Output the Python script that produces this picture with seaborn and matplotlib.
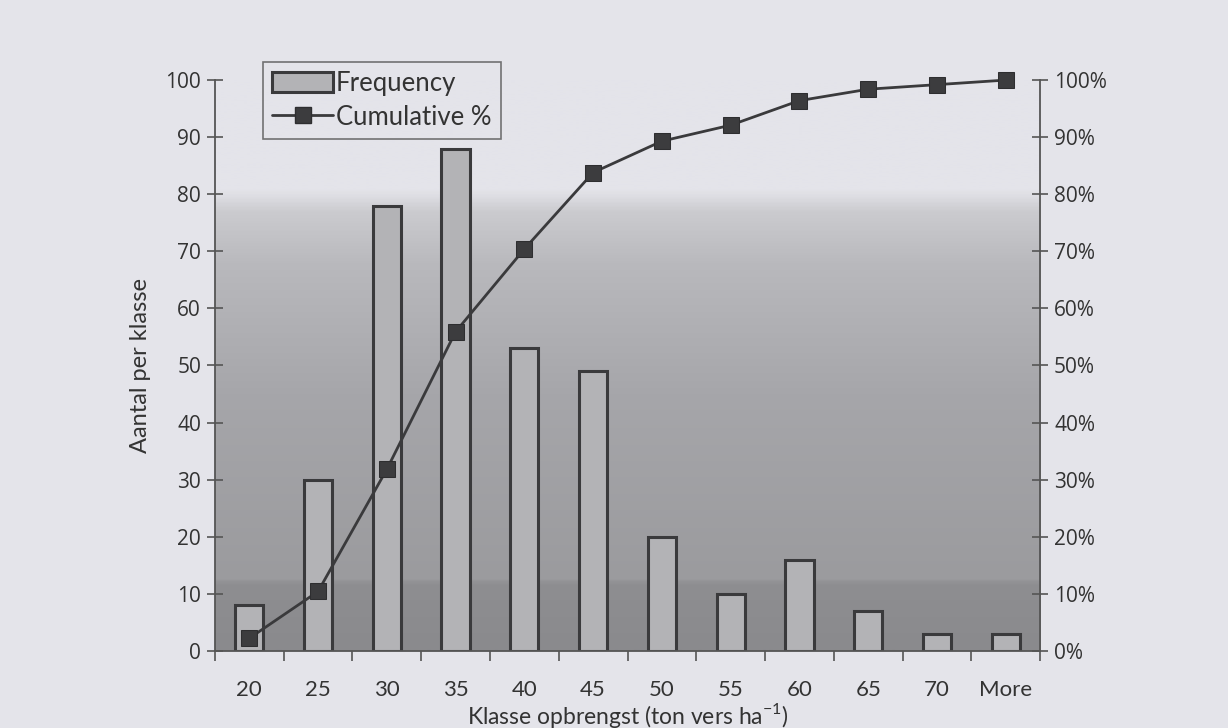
import numpy as np
import matplotlib
matplotlib.use("Agg")
import matplotlib.pyplot as plt
from matplotlib.colors import LinearSegmentedColormap
from matplotlib.lines import Line2D
from matplotlib.patches import Patch
import seaborn as sns

# Yield classes (upper bound, ton fresh per ha) and counts per class
klassen = ["20", "25", "30", "35", "40", "45", "50", "55", "60", "65", "70", "More"]
frequentie = [8, 30, 78, 88, 53, 49, 20, 10, 16, 7, 3, 3]
cumulatief = [2.2, 10.4, 31.8, 55.9, 70.4, 83.8, 89.3, 92.1, 96.4, 98.4, 99.2, 100.0]
y_ticks = [0, 10, 20, 30, 40, 50, 60, 70, 80, 90, 100]
pct_ticks = ["0%", "10%", "20%", "30%", "40%", "50%", "60%", "70%", "80%", "90%", "100%"]

page = "#e4e4ea"
ink = "#3a3a3c"

sns.set_theme(style="white")
plt.rcParams["font.family"] = ["Lato", "DejaVu Sans"]

fig = plt.figure(figsize=(12.28, 7.28), dpi=100, facecolor=page)
ax = fig.add_axes([0.175, 0.106, 0.672, 0.784])
ax.set_facecolor(page)

# shaded plot backdrop: dark band at the bottom, fading to light near 80
grad_stops = [(0.0, "#8a8a8d"), (0.115, "#8e8e91"), (0.125, "#9b9b9e"),
              (0.45, "#a6a6aa"), (0.68, "#b9b9bd"), (0.77, "#cbcbcf"),
              (0.81, page), (1.0, page)]
cmap = LinearSegmentedColormap.from_list("backdrop", grad_stops)
grad = np.linspace(0, 1, 400).reshape(-1, 1)
ax.imshow(grad, cmap=cmap, aspect="auto", origin="lower",
          extent=[0, 1, 0, 1], transform=ax.transAxes, zorder=0,
          interpolation="bilinear")

sns.barplot(x=klassen, y=frequentie, ax=ax, color="#b3b3b6", edgecolor=ink,
            linewidth=2.2, width=0.41, saturation=1, zorder=2)

ax.set_xlim(-0.5, len(klassen) - 0.5)
ax.set_ylim(0, 100)
ax.set_yticks(y_ticks)
ax.set_yticklabels([str(t) for t in y_ticks], fontfamily="Open Sans",
                   fontsize=15, color="#333333")
ax.tick_params(axis="y", direction="inout", length=12, width=1.2,
               color="#555555", left=True, pad=4)
ax.set_xticks(range(len(klassen)))
ax.set_xticklabels(klassen, fontsize=16, color="#333333")
ax.tick_params(axis="x", length=0, pad=21)
ax.set_xticks(np.arange(-0.5, len(klassen)), minor=True)
ax.tick_params(axis="x", which="minor", direction="out", length=7, width=1.2,
               color="#555555", bottom=True)

for side in ["top", "right"]:
    ax.spines[side].set_visible(False)
for side in ["left", "bottom"]:
    ax.spines[side].set_color("#555555")
    ax.spines[side].set_linewidth(1.3)

ax.set_ylabel("Aantal per klasse", fontsize=17, color="#333333", labelpad=10)
ax.set_xlabel("Klasse opbrengst (ton vers ha$^{\\mathregular{-1}}$)",
              fontsize=16.5, color="#333333", labelpad=1)

ax2 = ax.twinx()
sns.lineplot(x=np.arange(len(klassen)), y=cumulatief, ax=ax2, color=ink,
             linewidth=2.0, marker="s", markersize=12, markerfacecolor="#3c3c3e",
             markeredgecolor="#2e2e30", zorder=3)
for ln in ax2.get_lines():
    ln.set_clip_on(False)
ax2.set_ylim(0, 100)
ax2.set_yticks(y_ticks)
ax2.set_yticklabels(pct_ticks, fontfamily="Open Sans", fontsize=15,
                    color="#333333")
ax2.tick_params(axis="y", direction="inout", length=12, width=1.2,
                color="#555555", right=True, pad=4)
ax2.grid(False)
for side in ["top", "left", "bottom"]:
    ax2.spines[side].set_visible(False)
ax2.spines["right"].set_color("#555555")
ax2.spines["right"].set_linewidth(1.3)

handles = [
    Patch(facecolor="#b3b3b6", edgecolor=ink, linewidth=2.2, label="Frequency"),
    Line2D([0], [0], color=ink, linewidth=2.0, marker="s", markersize=12,
           markerfacecolor="#3c3c3e", markeredgecolor="#2e2e30",
           label="Cumulative %"),
]
leg = fig.legend(handles=handles, loc="upper left",
                 bbox_to_anchor=(0.214, 0.915), fontsize=18.5, frameon=True,
                 fancybox=False, handlelength=2.4, handleheight=0.8,
                 handletextpad=0.1, borderpad=0.35, labelspacing=0.35,
                 borderaxespad=0)
leg.get_frame().set_facecolor(page)
leg.get_frame().set_edgecolor("#555555")
leg.get_frame().set_linewidth(1.2)
for t in leg.get_texts():
    t.set_color("#333333")

fig.savefig("out.png", dpi=100, facecolor=page)
